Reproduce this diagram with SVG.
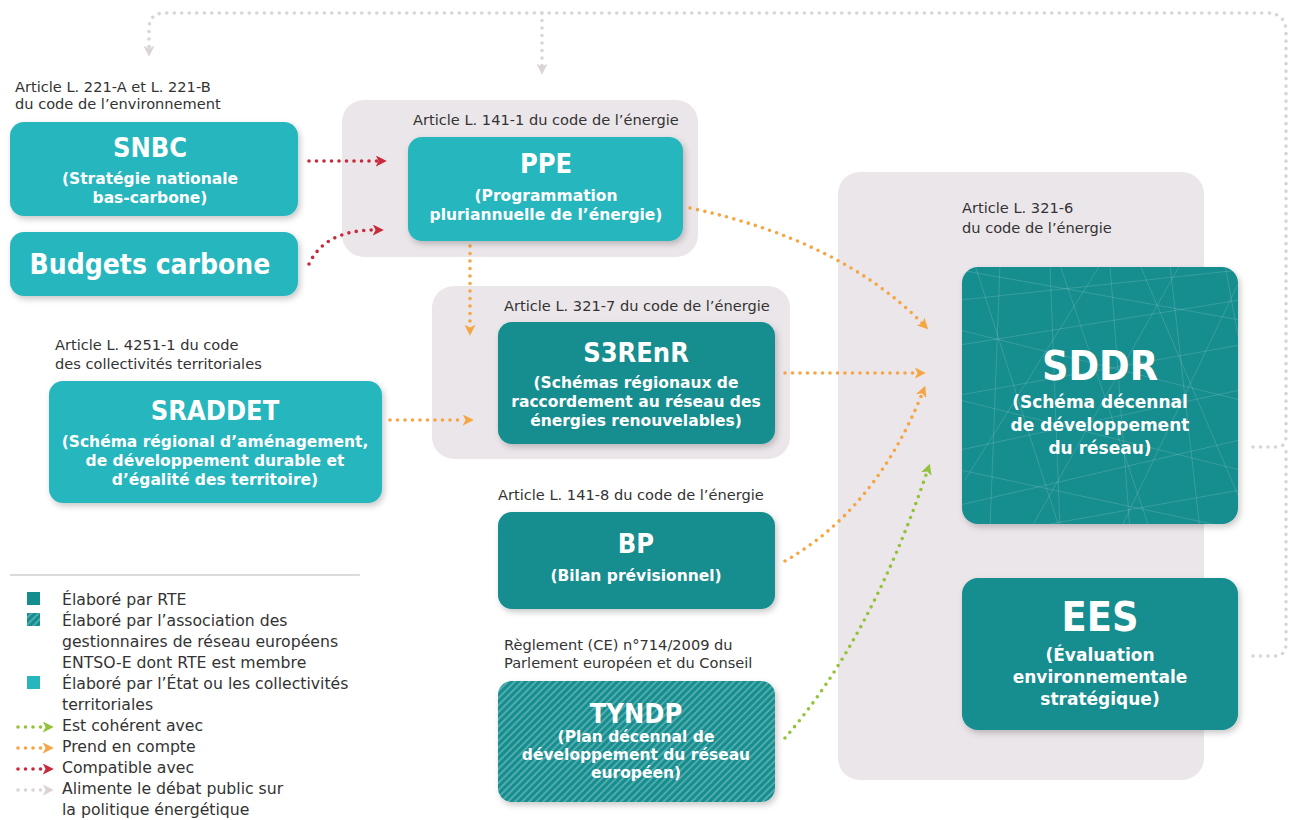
<svg xmlns="http://www.w3.org/2000/svg" width="1294" height="820" viewBox="0 0 1294 820">
<defs>
<style>
text{font-family:"DejaVu Sans",sans-serif}
.lbl{font-size:14.6px;fill:#333}
.leg{font-size:15.7px;fill:#333}
.t{font-weight:bold;fill:#fff;text-anchor:middle}
.tt{font-size:27px;font-family:"DejaVu Sans Condensed","DejaVu Sans",sans-serif;font-stretch:condensed}
.big{font-size:41px;font-family:"DejaVu Sans Condensed","DejaVu Sans",sans-serif;font-stretch:condensed}
.ts{font-size:15.5px}
.tl{font-size:17px}
.bg{fill:#ebe6ea}
.st{fill:#28b6be}
.rte{fill:#138d8e}
.c{fill:none;stroke-width:3.6;stroke-linecap:round;stroke-dasharray:0 7.5}
.red{stroke:#c72a3a}
.or{stroke:#f5a543}
.gr{stroke:#93c23b}
.gy{stroke:#dad3d8}
</style>
<filter id="sh" x="-10%" y="-10%" width="125%" height="130%">
<feDropShadow dx="2" dy="3" stdDeviation="3" flood-color="#000" flood-opacity="0.22"/>
</filter>
<pattern id="hatch" width="5" height="5" patternUnits="userSpaceOnUse" patternTransform="rotate(45)">
<rect width="5" height="5" fill="#138d8e"/>
<line x1="1" y1="0" x2="1" y2="5" stroke="#fff" stroke-opacity="0.38" stroke-width="1.4"/>
</pattern>
<marker id="mr" viewBox="0 0 10 10" refX="2" refY="5" markerWidth="11" markerHeight="11" markerUnits="userSpaceOnUse" orient="auto"><path d="M0,0 L10,5 L0,10 L2.5,5 z" fill="#c72a3a"/></marker>
<marker id="mo" viewBox="0 0 10 10" refX="2" refY="5" markerWidth="11" markerHeight="11" markerUnits="userSpaceOnUse" orient="auto"><path d="M0,0 L10,5 L0,10 L2.5,5 z" fill="#f5a543"/></marker>
<marker id="mg" viewBox="0 0 10 10" refX="2" refY="5" markerWidth="11" markerHeight="11" markerUnits="userSpaceOnUse" orient="auto"><path d="M0,0 L10,5 L0,10 L2.5,5 z" fill="#93c23b"/></marker>
<marker id="my" viewBox="0 0 10 10" refX="2" refY="5" markerWidth="11" markerHeight="11" markerUnits="userSpaceOnUse" orient="auto"><path d="M0,0 L10,5 L0,10 L2.5,5 z" fill="#dad3d8"/></marker>
<clipPath id="sddrclip"><rect x="962" y="267" width="276" height="257" rx="16"/></clipPath>
</defs>
<rect width="1294" height="820" fill="#fff"/>

<!-- group backgrounds -->
<g id="bg-ppe"><rect class="bg" x="342" y="100" width="356" height="157" rx="22"/></g>
<g id="bg-s3renr"><rect class="bg" x="432" y="286" width="358" height="173" rx="22"/></g>
<g id="bg-sddr"><rect class="bg" x="838" y="172" width="366" height="608" rx="22"/></g>

<!-- article labels -->
<g id="labels">
<text class="lbl" x="15" y="92">Article L. 221-A et L. 221-B</text>
<text class="lbl" x="15" y="109">du code de l’environnement</text>
<text class="lbl" x="413" y="125">Article L. 141-1 du code de l’énergie</text>
<text class="lbl" x="962" y="213">Article L. 321-6</text>
<text class="lbl" x="962" y="233">du code de l’énergie</text>
<text class="lbl" x="504" y="311">Article L. 321-7 du code de l’énergie</text>
<text class="lbl" x="55" y="350">Article L. 4251-1 du code</text>
<text class="lbl" x="55" y="369">des collectivités territoriales</text>
<text class="lbl" x="498" y="500">Article L. 141-8 du code de l’énergie</text>
<text class="lbl" x="504" y="650">Règlement (CE) n°714/2009 du</text>
<text class="lbl" x="504" y="668">Parlement européen et du Conseil</text>
</g>

<!-- connectors -->
<g id="connectors">
<path class="c red" d="M309,161 L378,161" marker-end="url(#mr)"/>
<path class="c red" d="M309,264 Q325,230 375,230" marker-end="url(#mr)"/>
<path class="c or" d="M470,246 L470,327" marker-end="url(#mo)"/>
<path class="c or" d="M390,420 L465,420" marker-end="url(#mo)"/>
<path class="c or" d="M785,373 L917,373" marker-end="url(#mo)"/>
<path class="c or" d="M690,208 Q840,240 922,323" marker-end="url(#mo)"/>
<path class="c or" d="M785,561 Q875,510 922,394" marker-end="url(#mo)"/>
<path class="c gr" d="M785,738 Q870,640 927,472" marker-end="url(#mg)"/>
<path class="c gy" d="M1253,447 L1276,447 Q1286,447 1286,437 L1286,32 Q1286,13 1267,13 L165,13 Q149,13 149,29 L149,48" marker-end="url(#my)"/>
<path class="c gy" d="M1253,656 L1274,656 Q1286,656 1286,644 L1286,447"/>
<path class="c gy" d="M542,13 L542,66" marker-end="url(#my)"/>
</g>

<!-- nodes -->
<g id="snbc">
<rect class="st" x="10" y="122" width="288" height="94" rx="14" filter="url(#sh)"/>
<text class="t tt" x="150" y="157">SNBC</text>
<text class="t ts" x="150" y="184">(Stratégie nationale</text>
<text class="t ts" x="150" y="203">bas-carbone)</text>
</g>
<g id="budgets">
<rect class="st" x="10" y="232" width="288" height="64" rx="14" filter="url(#sh)"/>
<text class="t tt" x="150" y="274" style="font-size:28px">Budgets carbone</text>
</g>
<g id="ppe">
<rect class="st" x="408" y="137" width="275" height="104" rx="14" filter="url(#sh)"/>
<text class="t tt" x="546" y="173">PPE</text>
<text class="t ts" x="546" y="201">(Programmation</text>
<text class="t ts" x="546" y="220">pluriannuelle de l’énergie)</text>
</g>
<g id="s3renr">
<rect class="rte" x="498" y="322" width="277" height="122" rx="14" filter="url(#sh)"/>
<text class="t tt" x="636" y="362">S3REnR</text>
<text class="t ts" x="636" y="388">(Schémas régionaux de</text>
<text class="t ts" x="636" y="407">raccordement au réseau des</text>
<text class="t ts" x="636" y="426">énergies renouvelables)</text>
</g>
<g id="sraddet">
<rect class="st" x="49" y="381" width="333" height="122" rx="14" filter="url(#sh)"/>
<text class="t tt" x="215" y="420">SRADDET</text>
<text class="t ts" x="215" y="447">(Schéma régional d’aménagement,</text>
<text class="t ts" x="215" y="466">de développement durable et</text>
<text class="t ts" x="215" y="485">d’égalité des territoire)</text>
</g>
<g id="bp">
<rect class="rte" x="498" y="512" width="277" height="97" rx="14" filter="url(#sh)"/>
<text class="t tt" x="636" y="553">BP</text>
<text class="t ts" x="636" y="581">(Bilan prévisionnel)</text>
</g>
<g id="tyndp">
<rect x="498" y="681" width="277" height="121" rx="14" fill="url(#hatch)" filter="url(#sh)"/>
<text class="t tt" x="636" y="723">TYNDP</text>
<text class="t ts" x="636" y="742">(Plan décennal de</text>
<text class="t ts" x="636" y="760">développement du réseau</text>
<text class="t ts" x="636" y="778">européen)</text>
</g>
<g id="sddr">
<rect class="rte" x="962" y="267" width="276" height="257" rx="16" filter="url(#sh)"/>
<g clip-path="url(#sddrclip)" stroke="#fff" stroke-opacity="0.15" stroke-width="1" fill="none">
<path d="M960,300 L1240,270 M960,345 L1240,300 M960,395 L1240,345 M960,450 L1240,390 M960,505 L1240,440 M960,540 L1240,490 M960,270 L1240,320 M960,330 L1240,400 M960,400 L1240,470 M960,470 L1240,530"/>
<path d="M1000,265 L990,530 M1050,265 L1060,530 M1110,265 L1130,530 M1170,265 L1200,530 M1225,265 L1250,400 M975,265 L1060,530 M1060,265 L1150,530 M1140,265 L1240,500 M1240,280 L1120,530 M1180,265 L1030,530 M1100,265 L965,480"/>
</g>
<text class="t big" x="1100" y="380">SDDR</text>
<text class="t tl" x="1100" y="408">(Schéma décennal</text>
<text class="t tl" x="1100" y="431">de développement</text>
<text class="t tl" x="1100" y="454">du réseau)</text>
</g>
<g id="ees">
<rect class="rte" x="962" y="578" width="276" height="152" rx="16" filter="url(#sh)"/>
<text class="t big" x="1100" y="631">EES</text>
<text class="t tl" x="1100" y="661">(Évaluation</text>
<text class="t tl" x="1100" y="683">environnementale</text>
<text class="t tl" x="1100" y="705">stratégique)</text>
</g>

<!-- legend -->
<g id="legend">
<line x1="10" y1="575" x2="360" y2="575" stroke="#bdb5ba" stroke-width="1.2"/>
<rect class="rte" x="27" y="592" width="13" height="13"/>
<rect x="27" y="613" width="13" height="13" fill="url(#hatch)"/>
<rect class="st" x="27" y="676" width="13" height="13"/>
<path class="c gr" d="M18,727 L45,727" stroke-width="3" marker-end="url(#mg)"/>
<path class="c or" d="M18,748 L45,748" stroke-width="3" marker-end="url(#mo)"/>
<path class="c red" d="M18,769 L45,769" stroke-width="3" marker-end="url(#mr)"/>
<path class="c gy" d="M18,790 L45,790" stroke-width="3" marker-end="url(#my)"/>
<text class="leg" x="62" y="605">Élaboré par RTE</text>
<text class="leg" x="62" y="626">Élaboré par l’association des</text>
<text class="leg" x="62" y="647">gestionnaires de réseau européens</text>
<text class="leg" x="62" y="668">ENTSO-E dont RTE est membre</text>
<text class="leg" x="62" y="689">Élaboré par l’État ou les collectivités</text>
<text class="leg" x="62" y="710">territoriales</text>
<text class="leg" x="62" y="731">Est cohérent avec</text>
<text class="leg" x="62" y="752">Prend en compte</text>
<text class="leg" x="62" y="773">Compatible avec</text>
<text class="leg" x="62" y="794">Alimente le débat public sur</text>
<text class="leg" x="62" y="815">la politique énergétique</text>
</g>
</svg>
